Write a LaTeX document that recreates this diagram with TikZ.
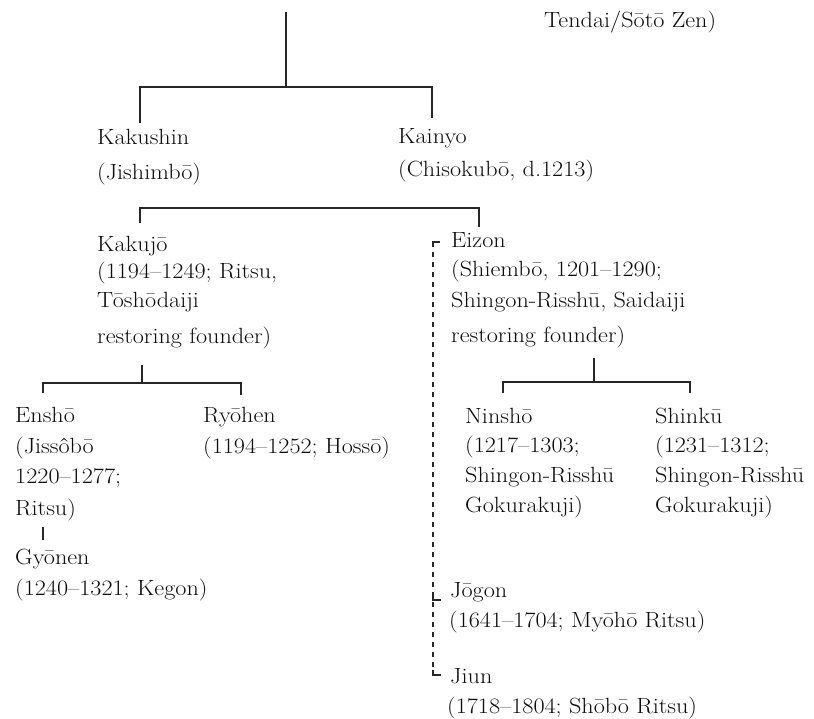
\documentclass[tikz,border=0pt]{standalone}
\usepackage{fontspec}
\usepackage{graphicx}
\newcommand\sx[1]{\scalebox{1.1}[1]{#1}}
\begin{document}
\begin{tikzpicture}[x=1pt,y=-1pt,
  txt/.style={anchor=base west,inner sep=0pt,font=\fontsize{22}{30}\selectfont,text=black!95},
  link/.style={line width=1.4pt,black!85},
  dlink/.style={line width=1.3pt,black!85,dash pattern=on 5pt off 5pt}]
\useasboundingbox (0,0) rectangle (814,719);
\fill[white] (0,0) rectangle (814,719);

% ---- text nodes ----
\node[txt] (tendai) at (544,28) {\sx{Tendai/Sōtō Zen)}};

\node[txt] (kakushin)  at (97,145) {\sx{Kakushin}};
\node[txt] (kakushinB) at (97,180) {\sx{(Jishimbō)}};
\node[txt] (kainyo)    at (398,144) {\sx{Kainyo}};
\node[txt] (kainyoB)   at (398,177) {\sx{(Chisokubō, d.1213)}};

\node[txt] (kakujo)  at (97,252) {\sx{Kakujō}};
\node[txt] (kakujoB) at (97,279) {\sx{(1194--1249; Ritsu,}};
\node[txt] (kakujoC) at (97,308) {\sx{Tōshōdaiji}};
\node[txt] (kakujoD) at (97,344) {\sx{restoring founder)}};

\node[txt] (eizon)  at (451,248) {\sx{Eizon}};
\node[txt] (eizonB) at (451,277) {\sx{(Shiembō, 1201--1290;}};
\node[txt] (eizonC) at (451,308) {\sx{Shingon-Risshū, Saidaiji}};
\node[txt] (eizonD) at (451,342) {\sx{restoring founder)}};

\node[txt] (ensho)  at (15,422) {\sx{Enshō}};
\node[txt] (enshoB) at (15,453) {\sx{(Jissôbō}};
\node[txt] (enshoC) at (15,483) {\sx{1220--1277;}};
\node[txt] (enshoD) at (15,515) {\sx{Ritsu)}};

\node[txt] (ryohen)  at (203,422) {\sx{Ryōhen}};
\node[txt] (ryohenB) at (203,453) {\sx{(1194--1252; Hossō)}};

\node[txt] (gyonen)  at (15,564) {\sx{Gyōnen}};
\node[txt] (gyonenB) at (15,595) {\sx{(1240--1321; Kegon)}};

\node[txt] (ninsho)  at (465,423) {\sx{Ninshō}};
\node[txt] (ninshoB) at (465,452) {\sx{(1217--1303;}};
\node[txt] (ninshoC) at (465,482) {\sx{Shingon-Risshū}};
\node[txt] (ninshoD) at (465,512) {\sx{Gokurakuji)}};

\node[txt] (shinku)  at (655,423) {\sx{Shinkū}};
\node[txt] (shinkuB) at (655,452) {\sx{(1231--1312;}};
\node[txt] (shinkuC) at (655,482) {\sx{Shingon-Risshū}};
\node[txt] (shinkuD) at (655,512) {\sx{Gokurakuji)}};

\node[txt] (jogon)  at (450,597) {\sx{Jōgon}};
\node[txt] (jogonB) at (449,627) {\sx{(1641--1704; Myōhō Ritsu)}};

\node[txt] (jiun)  at (450,683) {\sx{Jiun}};
\node[txt] (jiunB) at (447,713) {\sx{(1718--1804; Shōbō Ritsu)}};

% ---- junction coordinates ----
\coordinate (top) at (286,12);
\coordinate (h1) at (286,87);
\coordinate (h1l) at (140,87);
\coordinate (h1r) at (432,87);
\coordinate (kakushinT) at (140,123);
\coordinate (kainyoT) at (432,118);

\coordinate (h2l) at (140,208);
\coordinate (h2r) at (479,208);
\coordinate (kakujoT) at (140,223);
\coordinate (eizonT) at (479,227);

\coordinate (kakujoS) at (142,365);
\coordinate (h3) at (142,383);
\coordinate (h3l) at (43,383);
\coordinate (h3r) at (241,383);
\coordinate (enshoT) at (43,393);
\coordinate (ryohenT) at (241,395);

\coordinate (enshoS) at (43,527);
\coordinate (gyonenT) at (43,540);

\coordinate (eizonS) at (594,358);
\coordinate (h4) at (594,382);
\coordinate (h4l) at (503,382);
\coordinate (h4r) at (690,382);
\coordinate (ninshoT) at (503,393);
\coordinate (shinkuT) at (690,393);

\coordinate (dtop) at (433,242);
\coordinate (dtopR) at (440,242);
\coordinate (djogon) at (433,600);
\coordinate (djogonR) at (441,600);
\coordinate (djiun) at (433,675);
\coordinate (djiunR) at (441,675);

% ---- connectors ----
\draw[link] (top) -- (h1);
\draw[link] (kakushinT) -- (h1l) -- (h1r) -- (kainyoT);
\draw[link] (kakujoT) -- (h2l) -- (h2r) -- (eizonT);
\draw[link] (kakujoS) -- (h3);
\draw[link] (enshoT) -- (h3l) -- (h3r) -- (ryohenT);
\draw[line width=2.2pt,black!85] (enshoS) -- (gyonenT);
\draw[link] (eizonS) -- (h4);
\draw[link] (ninshoT) -- (h4l) -- (h4r) -- (shinkuT);

\draw[dlink] (dtop) -- (djiun);
\draw[line width=1.3pt,black!85] (dtopR) -- (dtop) -- ++(0,5);
\draw[line width=1.3pt,black!85] (djogon) ++(0,-5) -- (djogon) -- (djogonR);
\draw[line width=1.3pt,black!85] (djiun) ++(0,-5) -- (djiun) -- (djiunR);
\end{tikzpicture}
\end{document}
